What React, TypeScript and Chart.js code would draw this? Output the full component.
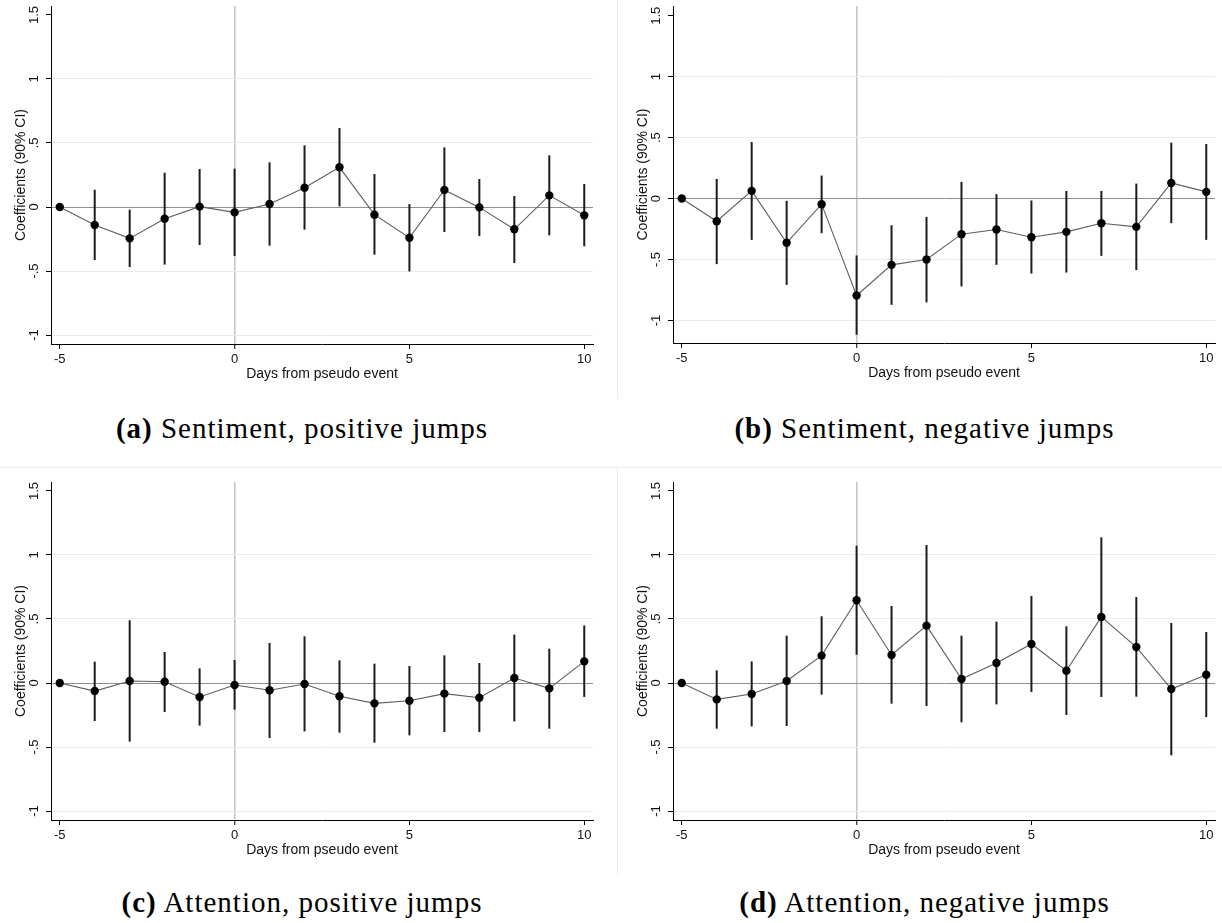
import React, { useEffect, useRef } from "react";
import { Chart, registerables } from "chart.js";

Chart.register(...registerables);

// Event-time axis and tick positions
const DAYS = [-5, -4, -3, -2, -1, 0, 1, 2, 3, 4, 5, 6, 7, 8, 9, 10];
const X_TICKS = [-5, 0, 5, 10];
const Y_TICKS = [-1, -0.5, 0, 0.5, 1, 1.5];

// (a) Sentiment, positive jumps
const SENT_POS_COEF = [0, -0.14, -0.245, -0.091, 0.003, -0.042, 0.023, 0.151, 0.31, -0.06, -0.24, 0.133, -0.003, -0.174, 0.091, -0.065];
const SENT_POS_LO = [null, -0.414, -0.469, -0.45, -0.297, -0.383, -0.302, -0.177, 0.005, -0.372, -0.503, -0.195, -0.227, -0.437, -0.221, -0.307];
const SENT_POS_HI = [null, 0.135, -0.021, 0.268, 0.297, 0.3, 0.349, 0.482, 0.617, 0.258, 0.023, 0.466, 0.219, 0.086, 0.404, 0.18];

// (b) Sentiment, negative jumps
const SENT_NEG_COEF = [0, -0.186, 0.063, -0.363, -0.046, -0.795, -0.544, -0.5, -0.292, -0.254, -0.317, -0.273, -0.202, -0.232, 0.128, 0.055];
const SENT_NEG_LO = [null, -0.538, -0.339, -0.708, -0.284, -1.117, -0.872, -0.852, -0.721, -0.544, -0.615, -0.607, -0.47, -0.587, -0.202, -0.339];
const SENT_NEG_HI = [null, 0.161, 0.464, -0.019, 0.189, -0.467, -0.219, -0.15, 0.137, 0.036, -0.016, 0.063, 0.063, 0.123, 0.459, 0.448];

// (c) Attention, positive jumps
const ATT_POS_COEF = [0, -0.063, 0.016, 0.01, -0.109, -0.016, -0.057, -0.008, -0.104, -0.159, -0.138, -0.083, -0.115, 0.039, -0.042, 0.169];
const ATT_POS_LO = [null, -0.297, -0.458, -0.227, -0.333, -0.208, -0.43, -0.378, -0.388, -0.466, -0.409, -0.383, -0.383, -0.3, -0.357, -0.109];
const ATT_POS_HI = [null, 0.167, 0.49, 0.242, 0.115, 0.18, 0.313, 0.365, 0.177, 0.151, 0.133, 0.216, 0.156, 0.378, 0.268, 0.45];

// (d) Attention, negative jumps
const ATT_NEG_COEF = [0, -0.128, -0.086, 0.016, 0.214, 0.646, 0.219, 0.448, 0.031, 0.156, 0.305, 0.096, 0.516, 0.281, -0.047, 0.065];
const ATT_NEG_LO = [null, -0.357, -0.339, -0.336, -0.091, 0.221, -0.161, -0.18, -0.307, -0.167, -0.07, -0.25, -0.109, -0.107, -0.565, -0.266];
const ATT_NEG_HI = [null, 0.099, 0.169, 0.37, 0.521, 1.073, 0.602, 1.078, 0.37, 0.479, 0.68, 0.443, 1.138, 0.672, 0.469, 0.398];

const X_TITLE = "Days from pseudo event";
const Y_TITLE = "Coefficients (90% CI)";

const SANS = '"Liberation Sans", Arial, sans-serif';

// Stata-style number labels: .5, -.5, 1.5
const fmt = (v: number) => String(v).replace(/^(-?)0\./, "$1.");

// Draws tick labels (y labels turned 90°) and axis titles
const axisText = {
  id: "axisText",
  afterDraw(chart: any) {
    const { ctx, chartArea, scales } = chart;
    const xs = scales.x;
    const ys = scales.y;
    ctx.save();
    ctx.fillStyle = "#111";
    ctx.textBaseline = "alphabetic";
    ctx.textAlign = "center";
    ctx.font = `13px ${SANS}`;
    X_TICKS.forEach((v) => {
      ctx.fillText(fmt(v), xs.getPixelForValue(v), chartArea.bottom + 19);
    });
    Y_TICKS.forEach((v) => {
      ctx.save();
      ctx.translate(chartArea.left - 13.5, ys.getPixelForValue(v));
      ctx.rotate(-Math.PI / 2);
      ctx.fillText(fmt(v), 0, 0);
      ctx.restore();
    });
    ctx.font = `14px ${SANS}`;
    ctx.fillText(X_TITLE, (chartArea.left + chartArea.right) / 2, chartArea.bottom + 34);
    ctx.save();
    ctx.translate(chartArea.left - 26, (chartArea.top + chartArea.bottom) / 2);
    ctx.rotate(-Math.PI / 2);
    ctx.fillText(Y_TITLE, 0, 0);
    ctx.restore();
    ctx.restore();
  },
};

type Area = { left: number; top: number; right: number; bottom: number };

type PanelProps = {
  left: number;
  top: number;
  width: number;
  height: number;
  area: Area;
  yMin: number;
  yMax: number;
  coef: number[];
  lo: (number | null)[];
  hi: (number | null)[];
};

function Panel({ left, top, width, height, area, yMin, yMax, coef, lo, hi }: PanelProps) {
  const ref = useRef<HTMLCanvasElement>(null);

  useEffect(() => {
    const canvas = ref.current;
    if (!canvas) return;
    const points = DAYS.map((d, i) => ({ x: d, y: coef[i] }));
    const intervals = DAYS.map((d, i) =>
      lo[i] == null || hi[i] == null ? null : { x: d, y: [lo[i], hi[i]] }
    ).filter((p) => p !== null);

    const chart = new Chart(canvas, {
      type: "line",
      data: {
        datasets: [
          {
            type: "line",
            data: points,
            borderColor: "#5e5e5e",
            borderWidth: 1.1,
            tension: 0,
            pointRadius: 4.2,
            pointHoverRadius: 4.2,
            pointBackgroundColor: "#000",
            pointBorderWidth: 0,
            order: 0,
          },
          {
            type: "bar",
            data: intervals as any,
            backgroundColor: "#1c1c1c",
            borderWidth: 0,
            barThickness: 2,
            inflateAmount: 0,
            order: 1,
          },
        ],
      },
      options: {
        responsive: false,
        animation: false,
        events: [],
        layout: {
          padding: {
            left: area.left - 5,
            top: area.top,
            right: width - area.right,
            bottom: height - area.bottom - 5,
          },
        },
        plugins: {
          legend: { display: false },
          tooltip: { enabled: false },
        },
        scales: {
          x: {
            type: "linear",
            min: -5.25,
            max: 10.25,
            offset: false,
            afterBuildTicks: (s: any) => {
              s.ticks = X_TICKS.map((v) => ({ value: v }));
            },
            ticks: { display: false },
            grid: {
              offset: false,
              drawTicks: true,
              tickLength: 5,
              tickColor: "#000",
              tickWidth: 1,
              color: (c: any) => (c.tick && c.tick.value === 0 ? "#c4c4c4" : "rgba(0,0,0,0)"),
              lineWidth: (c: any) => (c.tick && c.tick.value === 0 ? 1.5 : 1),
            },
            border: { display: true, color: "#000", width: 1 },
          },
          y: {
            type: "linear",
            min: yMin,
            max: yMax,
            afterBuildTicks: (s: any) => {
              s.ticks = Y_TICKS.map((v) => ({ value: v }));
            },
            ticks: { display: false },
            grid: {
              drawTicks: true,
              tickLength: 5,
              tickColor: "#000",
              tickWidth: 1,
              color: (c: any) => {
                const v = c.tick ? c.tick.value : null;
                if (v === 0) return "#8e8e8e";
                if (v === 1.5) return "rgba(0,0,0,0)";
                return "#e6edf0";
              },
              lineWidth: 1,
            },
            border: { display: true, color: "#000", width: 1 },
          },
        },
      } as any,
      plugins: [axisText],
    });
    return () => chart.destroy();
  }, []);

  return (
    <canvas
      ref={ref}
      width={width}
      height={height}
      style={{ position: "absolute", left, top, width, height }}
    />
  );
}

const captionStyle: React.CSSProperties = {
  position: "absolute",
  textAlign: "center",
  font: '29px/29px "Liberation Serif", "Times New Roman", serif',
  letterSpacing: "1px",
  whiteSpace: "nowrap",
  color: "#000",
};

const frameLine = "#ececec";

export default function App() {
  const leftArea = { left: 51, top: 6, right: 593, bottom: 344 };
  const rightArea = { left: 55, top: 6, right: 597, bottom: 343 };
  const leftAreaLow = { left: 51, top: 15, right: 593, bottom: 353 };
  const rightAreaLow = { left: 55, top: 15, right: 597, bottom: 353 };
  return (
    <div
      style={{
        position: "absolute",
        left: 0,
        top: 0,
        width: 1222,
        height: 923,
        background: "#fff",
        overflow: "hidden",
      }}
    >
      <div style={{ position: "absolute", left: 617, top: 0, width: 1, height: 399, background: frameLine }} />
      <div style={{ position: "absolute", left: 0, top: 467, width: 1222, height: 1, background: frameLine }} />
      <div style={{ position: "absolute", left: 617, top: 467, width: 1, height: 408, background: frameLine }} />

      <Panel left={0} top={0} width={610} height={400} area={leftArea} yMin={-1.07} yMax={1.57}
        coef={SENT_POS_COEF} lo={SENT_POS_LO} hi={SENT_POS_HI} />
      <Panel left={618} top={0} width={604} height={400} area={rightArea} yMin={-1.185} yMax={1.58}
        coef={SENT_NEG_COEF} lo={SENT_NEG_LO} hi={SENT_NEG_HI} />
      <Panel left={0} top={467} width={610} height={400} area={leftAreaLow} yMin={-1.07} yMax={1.57}
        coef={ATT_POS_COEF} lo={ATT_POS_LO} hi={ATT_POS_HI} />
      <Panel left={618} top={467} width={604} height={400} area={rightAreaLow} yMin={-1.07} yMax={1.57}
        coef={ATT_NEG_COEF} lo={ATT_NEG_LO} hi={ATT_NEG_HI} />

      <div style={{ ...captionStyle, left: 0, width: 604, top: 413.7 }}>
        <b>(a)</b> Sentiment, positive jumps
      </div>
      <div style={{ ...captionStyle, left: 627, width: 595, top: 413.7 }}>
        <b>(b)</b> Sentiment, negative jumps
      </div>
      <div style={{ ...captionStyle, left: 0, width: 604, top: 887.7 }}>
        <b>(c)</b> Attention, positive jumps
      </div>
      <div style={{ ...captionStyle, left: 627, width: 595, top: 887.7 }}>
        <b>(d)</b> Attention, negative jumps
      </div>
    </div>
  );
}
